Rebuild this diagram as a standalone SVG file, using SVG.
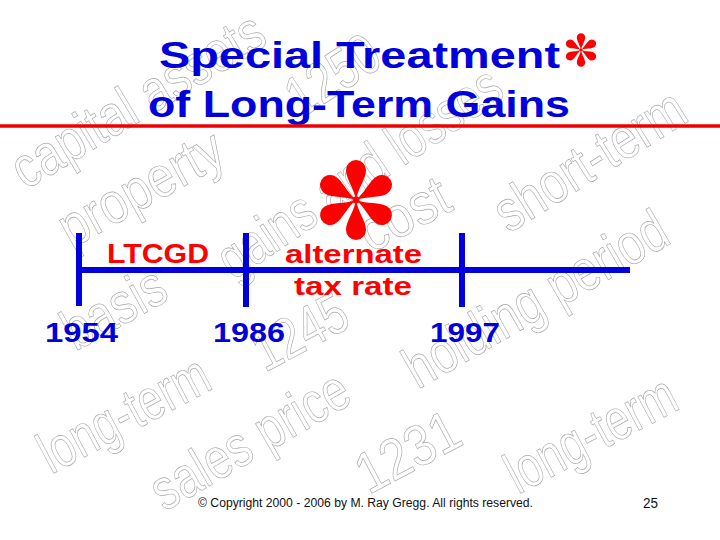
<svg xmlns="http://www.w3.org/2000/svg" width="720" height="540" viewBox="0 0 720 540">
<style>
.wm{font-family:"Liberation Sans",Arial,sans-serif;font-size:58px;fill:none;stroke:#a8a8a8;stroke-width:0.7;text-anchor:middle}
.title{font-family:"Liberation Sans",Arial,sans-serif;font-weight:bold;font-size:37px;fill:#0000DD}
.red{font-family:"Liberation Sans",Arial,sans-serif;font-weight:bold;fill:#FF0000}
.yr{font-family:"Liberation Sans",Arial,sans-serif;font-weight:bold;font-size:27px;fill:#0000DD}
.foot{font-family:"Liberation Sans",Arial,sans-serif;fill:#111}
.bl{stroke:#0000DD;stroke-width:6;fill:none}
</style>
<defs>
<path id="petal" d="M0,0 C-2,-12 -10,-21 -10,-30 A10 10 0 0 1 10,-30 C10,-21 2,-12 0,0 Z" fill="#FF0000"/>
<g id="ast">
<circle r="3.5" fill="#FF0000"/>
<use href="#petal"/>
<use href="#petal" transform="rotate(60)"/>
<use href="#petal" transform="rotate(120)"/>
<use href="#petal" transform="rotate(180)"/>
<use href="#petal" transform="rotate(240)"/>
<use href="#petal" transform="rotate(300)"/>
</g>
</defs>
<rect width="720" height="540" fill="#fff"/>
<g id="watermark">
<text class="wm" transform="translate(140,104) rotate(-31)" y="15" textLength="285" lengthAdjust="spacingAndGlyphs">capital assets</text>
<text class="wm" transform="translate(143,192) rotate(-29)" y="15" textLength="180" lengthAdjust="spacingAndGlyphs">property</text>
<text class="wm" transform="translate(335,79) rotate(-33)" y="15" textLength="100" lengthAdjust="spacingAndGlyphs">1250</text>
<text class="wm" transform="translate(362,176) rotate(-34)" y="15" textLength="330" lengthAdjust="spacingAndGlyphs">gains and losses</text>
<text class="wm" transform="translate(592,164) rotate(-32)" y="15" textLength="215" lengthAdjust="spacingAndGlyphs">short-term</text>
<text class="wm" transform="translate(406,218) rotate(-28)" y="15" textLength="95" lengthAdjust="spacingAndGlyphs">cost</text>
<text class="wm" transform="translate(116,312) rotate(-29)" y="15" textLength="110" lengthAdjust="spacingAndGlyphs">basis</text>
<text class="wm" transform="translate(302,336) rotate(-28)" y="15" textLength="100" lengthAdjust="spacingAndGlyphs">1245</text>
<text class="wm" transform="translate(538,303) rotate(-30)" y="15" textLength="295" lengthAdjust="spacingAndGlyphs">holding period</text>
<text class="wm" transform="translate(126,418) rotate(-28)" y="15" textLength="185" lengthAdjust="spacingAndGlyphs">long-term</text>
<text class="wm" transform="translate(252,444) rotate(-30)" y="15" textLength="220" lengthAdjust="spacingAndGlyphs">sales price</text>
<text class="wm" transform="translate(410,456) rotate(-28)" y="15" textLength="110" lengthAdjust="spacingAndGlyphs">1231</text>
<text class="wm" transform="translate(593,438) rotate(-28)" y="15" textLength="185" lengthAdjust="spacingAndGlyphs">long-term</text>
</g>
<g id="title">
<text class="title" x="159" y="68" textLength="401" lengthAdjust="spacingAndGlyphs">Special Treatment</text>
<text class="title" x="148" y="117" textLength="422" lengthAdjust="spacingAndGlyphs">of Long-Term Gains</text>
<use href="#ast" transform="translate(581,50) scale(0.42)"/>
<line x1="0" y1="126" x2="720" y2="126" stroke="#EE0000" stroke-width="3.5"/>
</g>
<g id="connectors">
<line class="bl" x1="76" y1="270" x2="630" y2="270"/>
<line class="bl" x1="79" y1="233" x2="79" y2="306"/>
<line class="bl" x1="246" y1="233" x2="246" y2="307"/>
<line class="bl" x1="462" y1="233" x2="462" y2="307"/>
</g>
<g id="ltcgd">
<text class="red" x="107" y="263" font-size="27" textLength="102" lengthAdjust="spacingAndGlyphs">LTCGD</text>
</g>
<g id="alternate">
<use href="#ast" transform="translate(356,200)"/>
<text class="red" x="285" y="263" font-size="25" textLength="137" lengthAdjust="spacingAndGlyphs">alternate</text>
<text class="red" x="294" y="295" font-size="25" textLength="118" lengthAdjust="spacingAndGlyphs">tax rate</text>
</g>
<g id="y1954"><text class="yr" x="45" y="342" textLength="73" lengthAdjust="spacingAndGlyphs">1954</text></g>
<g id="y1986"><text class="yr" x="213" y="342" textLength="72" lengthAdjust="spacingAndGlyphs">1986</text></g>
<g id="y1997"><text class="yr" x="430" y="342" textLength="70" lengthAdjust="spacingAndGlyphs">1997</text></g>
<g id="footer">
<text class="foot" x="198" y="507" font-size="12.5" textLength="335" lengthAdjust="spacingAndGlyphs">© Copyright 2000 - 2006 by M. Ray Gregg.  All rights reserved.</text>
<text class="foot" x="643" y="508" font-size="14" textLength="15" lengthAdjust="spacingAndGlyphs">25</text>
</g>
</svg>
